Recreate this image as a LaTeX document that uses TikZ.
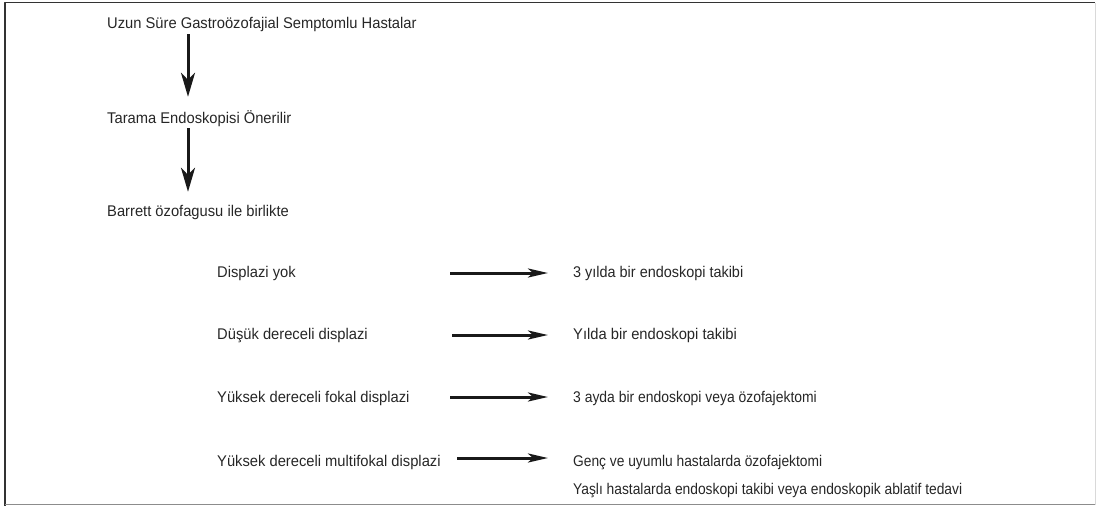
\documentclass[tikz,border=0pt]{standalone}
\usepackage{fontspec}
\setmainfont{Liberation Sans}[FakeStretch=0.95]
\usetikzlibrary{arrows.meta,positioning}
\tikzset{
	metin/.style={anchor=base west,inner sep=0pt,text height=11pt,text depth=3pt,text=black!85,font=\fontsize{15.5}{18}\selectfont},
	dikok/.style={line width=3pt,draw=black!90,-{Stealth[length=24pt,width=14pt,inset=7pt]}},
	yatok/.style={line width=3pt,draw=black!90,-{Stealth[length=20pt,width=9pt,inset=5pt]}}
}
\begin{document}
\begin{tikzpicture}[x=1pt,y=-1pt,line join=round]
			\useasboundingbox (0,0) rectangle (1096,506);
			%%Çerçeve
			\draw[black!80,line width=1.5pt] (5,506)--(5,2.5)--(1095,2.5);
			\draw[black!45,line width=1.2pt] (5,504.5)--(1095,504.5);
			\draw[black!15] (1095,2.5)--(1095,504.5);
			%%Üst kısım
			\node[metin] (uzun) at (107,28.5) {Uzun Süre Gastroözofajial Semptomlu Hastalar};
			\node[metin] (tarama) at (107,123) {Tarama Endoskopisi Önerilir};
			\node[metin] (barrett) at (107,216.7) {Barrett özofagusu ile birlikte};
			\draw[dikok] ([xshift=81pt,yshift=-2.5pt]uzun.south west)--([xshift=81pt,yshift=15pt]tarama.north west);
			\draw[dikok] ([xshift=81pt,yshift=-2pt]tarama.south west)--([xshift=81pt,yshift=13.7pt]barrett.north west);
			%%Displazi satırları
			\foreach \i/\y/\sol/\sag/\sx/\ox/\oy in {
					1/277.7/Displazi yok/3 yılda bir endoskopi takibi/0.98/450/273,
					2/339/Düşük dereceli displazi/Yılda bir endoskopi takibi/1/452/335,
					3/402.3/Yüksek dereceli fokal displazi/3 ayda bir endoskopi veya özofajektomi/0.945/450/397,
					4/466/Yüksek dereceli multifokal displazi/Genç ve uyumlu hastalarda özofajektomi/0.936/457/458}{
					\node[metin] (sol\i) at (217,\y) {\sol};
					\node[metin,xscale=\sx] (sag\i) at (573,\y) {\sag};
					\coordinate (ok\i) at (\ox,\oy);
					\draw[yatok,shorten >=25pt] (ok\i)--(ok\i -| sag\i.west);
				}
			\node[metin,xscale=0.938] (yasli) at (573,494) {Yaşlı hastalarda endoskopi takibi veya endoskopik ablatif tedavi};
		\end{tikzpicture}
\end{document}
